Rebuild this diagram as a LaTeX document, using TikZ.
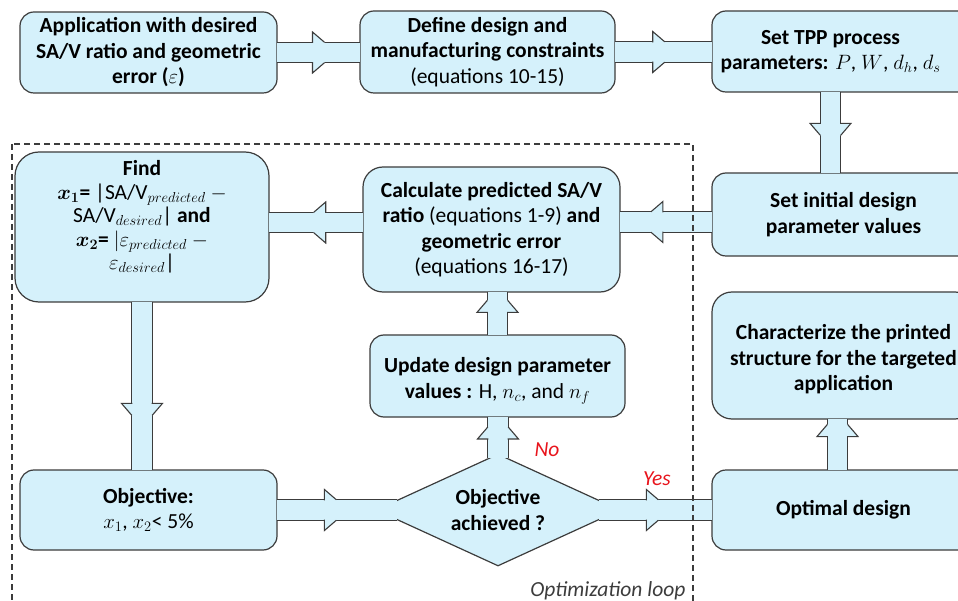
\documentclass[tikz,border=0pt]{standalone}
\usepackage{amsmath, amssymb}
\usepackage{fontspec}
\setmainfont{Carlito}
\DeclareMathSizes{21.5}{22}{15}{12}
\usetikzlibrary{shapes.geometric, decorations.markings, calc}

\definecolor{boxBlue}{HTML}{D5F1FB}
\definecolor{edgeGray}{HTML}{3C3C3C}
\definecolor{answerRed}{HTML}{E8141C}

\begin{document}
\begin{tikzpicture}[
		x=1pt, y=-1pt,
		font=\fontsize{21.5}{25.5}\selectfont\bfseries,
		% Styles
		stepBox/.style={draw=edgeGray, fill=boxBlue, line width=1.2pt, rounded corners=14pt, align=center, inner sep=0pt},
		decisionBox/.style={draw=edgeGray, fill=boxBlue, line width=1.2pt, diamond, aspect=2.18, align=center, inner sep=0pt, minimum width=244pt, minimum height=112pt},
		pipeArrow/.style={draw=edgeGray, line width=1.1pt, double=boxBlue, double distance=19.5pt, shorten <=-0.6pt, shorten >=-0.6pt,
			postaction={decorate, decoration={markings, mark=at position #1 with {
						\fill[boxBlue] (-6,-9.7) -- (-6,-20.5) -- (6,-10.2) -- (6,10.2) -- (-6,20.5) -- (-6,9.7) -- cycle;
						\draw[edgeGray, line width=1.1pt, shorten <=0pt, shorten >=0pt] (-6,9.7) -- (-6,20.5) -- (6,10.2) (-6,-9.7) -- (-6,-20.5) -- (6,-10.2);
			}}}},
		pipeArrow/.default=0.5,
		answerText/.style={font=\fontsize{21.5}{25}\selectfont\mdseries\itshape, text=answerRed}
		]
		
		\useasboundingbox (0,0) rectangle (958,601);
		\clip (0,0) rectangle (958,601);
		
		% =========================================================
		% 1. TOP ROW (set up)
		% =========================================================
		\node[stepBox, minimum width=257pt, minimum height=81pt] (App) at (148.5, 52.5) {Application with desired\\ SA/V ratio and geometric\\ error ({\mdseries$\varepsilon$})};
		\node[stepBox, minimum width=255pt, minimum height=82pt] (Constraints) at (487.5, 52) {Define design and\\ manufacturing constraints\\ {\mdseries (equations 10-15)}};
		% text sits a little left of the box centre
		\node[stepBox, minimum width=263pt, minimum height=81pt] (TPP) at (843.5, 51.5) {Set TPP process\hspace*{26pt}\\ parameters: {\mdseries $P$, $W$, $d_h$, $d_s$}\hspace*{26pt}};
		
		% =========================================================
		% 2. OPTIMIZATION LOOP
		% =========================================================
		\node[stepBox, minimum width=263pt, minimum height=83pt] (InitDesign) at (843.5, 214.5) {Set initial design\\ parameter values};
		\node[stepBox, rounded corners=20pt, minimum width=257pt, minimum height=125pt] (Calc) at (491.5, 229.5) {Calculate predicted SA/V\\ ratio {\mdseries (equations 1-9)} and\\ geometric error\\ {\mdseries (equations 16-17)}};
		
		% Find box, text set higher than its centre
		\node[stepBox, rounded corners=24pt, minimum width=254pt, minimum height=150pt] (Find) at (142, 227) {};
		\node[align=center, font=\fontsize{21.5}{23.5}\selectfont\bfseries] (FindText) at ([yshift=10pt]Find.center) {Find\\ $\boldsymbol{x_1}$= {\mdseries |SA/V$_{predicted}$ $-$}\\ {\mdseries SA/V$_{desired}$|} and\\ $\boldsymbol{x_2}$= {\mdseries $|\varepsilon_{predicted}$ $-$}\\ {\mdseries $\varepsilon_{desired}$|}};
		
		\node[stepBox, minimum width=255pt, minimum height=82pt] (Update) at (497.5, 376) {};
		\node[align=center] (UpdateText) at ([yshift=-5pt]Update.center) {Update design parameter\\ values : {\mdseries H, $n_c$, and $n_f$}};
		\node[stepBox, minimum width=257pt, minimum height=80pt] (Objective) at (148.5, 510) {Objective:\\ {\mdseries $x_1$, $x_2$< 5\%}};
		\node[decisionBox] (Achieved) at (498, 510) {Objective\\ achieved ?};
		
		% =========================================================
		% 3. RESULT
		% =========================================================
		\node[stepBox, minimum width=263pt, minimum height=80pt] (Optimal) at (843.5, 510) {Optimal design};
		\node[stepBox, rounded corners=20pt, minimum width=263pt, minimum height=127pt] (Characterize) at (843.5, 355.5) {};
		\node[align=center] (CharacterizeText) at ([yshift=-4pt]Characterize.center) {Characterize the printed\\ structure for the targeted\\ application};
		
		% =========================================================
		% 4. PIPES
		% =========================================================
		\draw[pipeArrow] (App.east) -- (App.east -| Constraints.west);
		\draw[pipeArrow=0.45] (Constraints.east) -- (Constraints.east -| TPP.west);
		\draw[pipeArrow=0.46] ([xshift=-13pt]TPP.south) -- ([xshift=-13pt]TPP.south |- InitDesign.north);
		\draw[pipeArrow=0.6] ([yshift=-7.5pt]InitDesign.west) -- ([yshift=-7.5pt]InitDesign.west -| Calc.east);
		\draw[pipeArrow=0.46] ([yshift=7pt]Calc.west) -- ([yshift=7pt]Calc.west -| Find.east);
		\draw[pipeArrow=0.64] (Find.south) -- (Find.south |- Objective.north);
		\draw[pipeArrow=0.54, shorten >=-22pt] (Objective.east) -- (Achieved.west);
		\draw[pipeArrow=0.57, shorten <=-5pt] (Achieved.north) -- (Achieved.north |- Update.south);
		\draw[pipeArrow=0.67] (Update.north) -- (Update.north |- Calc.south);
		\draw[pipeArrow=0.35, shorten <=-22pt] (Achieved.east) -- (Optimal.west);
		\draw[pipeArrow=0.78] ([xshift=-6pt]Optimal.north) -- ([xshift=-6pt]Optimal.north |- Characterize.south);
		
		% decision labels
		\node[answerText] (NoLabel) at (547, 450) {No};
		\node[answerText] (YesLabel) at (657, 479) {Yes};
		
		% dashed frame round the loop
		\draw[edgeGray, line width=1.1pt, dash pattern=on 6pt off 4pt] (12,144) rectangle (693,612);
		\node[anchor=south east, font=\fontsize{21.5}{25}\selectfont\mdseries\itshape, text=edgeGray] (LoopLabel) at (689, 603) {Optimization loop};
		
	\end{tikzpicture}
\end{document}
